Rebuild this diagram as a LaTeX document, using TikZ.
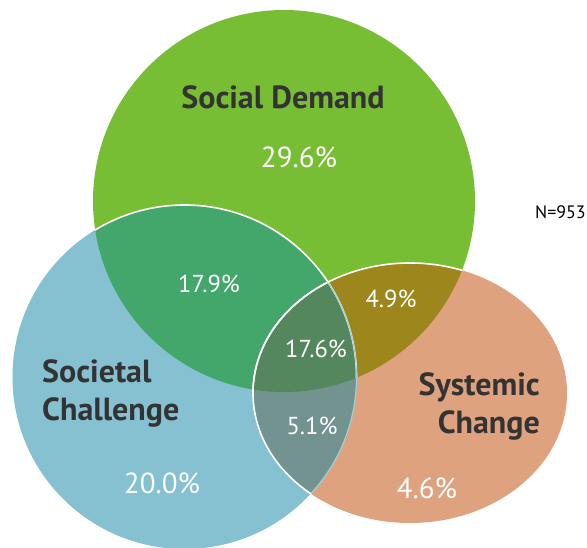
\documentclass[tikz,border=0pt]{standalone}
\usepackage{fontspec}
\setmainfont{PT Sans}
\definecolor{cgreen}{HTML}{78BE34}
\definecolor{cblue}{HTML}{85C1D0}
\definecolor{corange}{HTML}{DEA27F}
\definecolor{cgb}{HTML}{43A66A}
\definecolor{cgo}{HTML}{9D861C}
\definecolor{cbo}{HTML}{72938F}
\definecolor{cgbo}{HTML}{55875E}
\definecolor{clabel}{HTML}{333333}
\definecolor{cbline}{HTML}{9FD0DC}
\tikzset{
  title/.style={font=\bfseries\fontsize{32}{38}\selectfont, text=clabel, inner sep=0pt},
  pct/.style={font=\fontsize{29}{32}\selectfont, text=white, inner sep=0pt},
  spct/.style={font=\fontsize{24.5}{28}\selectfont, text=white, inner sep=0pt},
  border/.style={draw=white, line width=1.6pt},
}
\begin{document}
\begin{tikzpicture}[x=1pt,y=-1pt]
\useasboundingbox (0,0) rectangle (587,548);
\clip (0,0) rectangle (587,548);
\coordinate (G) at (284,201);
\coordinate (B) at (184.5,377);
\coordinate (O) at (410,393);
\def\gshape{(G) circle[radius=191pt]}
\def\bshape{(B) circle[radius=172pt]}
\def\oshape{(O) ellipse[x radius=157pt, y radius=130pt]}
% base fills
\fill[cgreen] \gshape;
\fill[cblue] \bshape;
\fill[corange] \oshape;
% pairwise overlaps
\begin{scope}\clip \gshape; \fill[cgb] \bshape; \end{scope}
\begin{scope}\clip \gshape; \fill[cgo] \oshape; \end{scope}
\begin{scope}\clip \bshape; \fill[cbo] \oshape; \end{scope}
\begin{scope}\clip \gshape; \clip \bshape; \fill[cgbo] \oshape; \end{scope}
% borders
\begin{scope}\clip \gshape; \draw[border] \bshape; \end{scope}
\begin{scope}\clip \oshape; \draw[draw=cbline, line width=1.2pt] \bshape; \end{scope}
\begin{scope}\clip \gshape; \draw[border] \oshape; \end{scope}
\begin{scope}\clip \bshape; \draw[border] \oshape; \end{scope}
% labels
\node[title] (tsd) at (283,97) {Social Demand};
\node[pct] (p1) at (299,157) {29.6\%};
\node[font=\fontsize{18}{20}\selectfont, inner sep=0pt, anchor=east] (n) at (586,212) {N=953};
\node[spct] (p2) at (209,284) {17.9\%};
\node[spct] (p3) at (391,299) {4.9\%};
\node[spct] (p4) at (316,349) {17.6\%};
\node[spct] (p5) at (312,426) {5.1\%};
\node[title, align=left, anchor=west] (tsc) at (42,393) {Societal\\Challenge};
\node[pct] (p6) at (162,483) {20.0\%};
\node[title, align=right, anchor=east] (tsy) at (540,406) {Systemic\\Change};
\node[pct] (p7) at (427,488) {4.6\%};
\end{tikzpicture}
\end{document}
